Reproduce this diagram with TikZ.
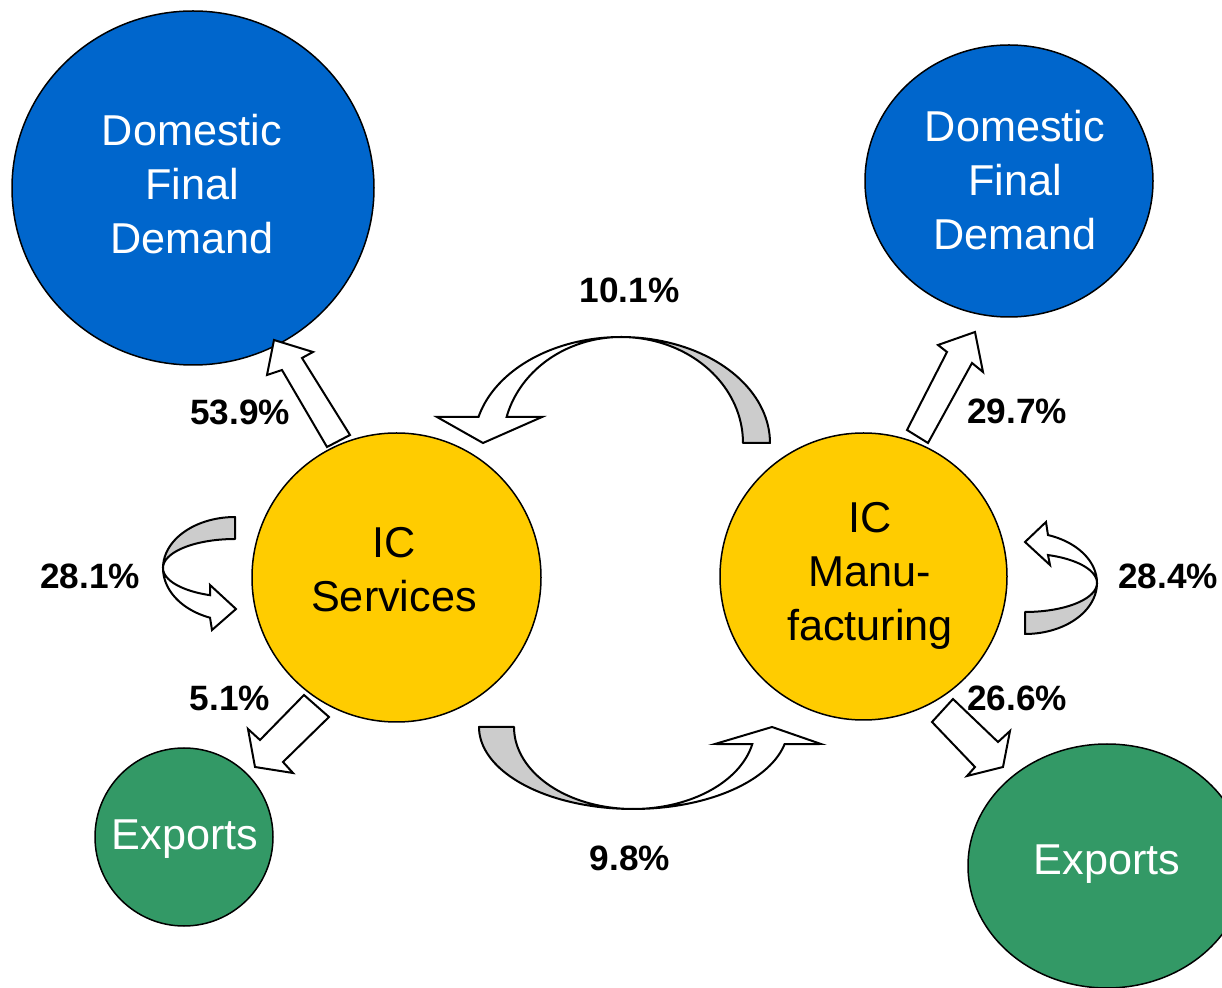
\documentclass[tikz,border=0pt]{standalone}
\usepackage{fontspec}
\setmainfont{Liberation Sans}
\usetikzlibrary{shapes.geometric}
\definecolor{dfblue}{RGB}{0,102,204}
\definecolor{icyellow}{RGB}{255,204,0}
\definecolor{expgreen}{RGB}{51,153,102}
\definecolor{bandgray}{RGB}{204,204,204}
\begin{document}
\begin{tikzpicture}[x=0.5pt,y=-0.5pt,
  blob/.style={ellipse, draw=black, line width=0.75pt, inner sep=0pt, outer sep=0pt},
  ctext/.style={font=\fontsize{21.6}{27}\selectfont, align=center, inner sep=0pt},
  pct/.style={font=\bfseries\fontsize{17.6}{20}\selectfont, inner sep=0pt},
  barrow/.style={draw=black, fill=white, line width=1pt, line join=miter},
  band/.style={draw=black, fill=bandgray, line width=1pt, line join=round},
  wband/.style={draw=black, fill=white, line width=1pt, line join=miter},
]
\useasboundingbox (0,0) rectangle (1222,988);

% circles
\node[blob, fill=dfblue, minimum width=181pt, minimum height=177pt] (dfdL) at (193,188) {};
\node[blob, fill=dfblue, minimum width=144pt, minimum height=136pt] (dfdR) at (1009,181) {};
\node[blob, fill=icyellow, minimum width=144.5pt, minimum height=144.5pt] (ics) at (396.5,577.5) {};
\node[blob, fill=icyellow, minimum width=143.5pt, minimum height=143.5pt] (icm) at (863.5,576.5) {};
\node[blob, fill=expgreen, minimum width=89pt, minimum height=89pt] (expL) at (184,837) {};
\node[blob, fill=expgreen, minimum width=139pt, minimum height=122pt] (expR) at (1107,866) {};

% circle texts
\node[ctext, text=white] (dfdLt) at (192,184) {Domestic\\Final\\Demand};
\node[ctext, text=white] (dfdRt) at (1015,180) {Domestic\\Final\\Demand};
\node[ctext, text=black] (icst) at (394,570) {IC\\Services};
\node[ctext, text=black] (icmt) at (870,575.5) {IC\\Manu-\\facturing};
\node[ctext, text=white] (expLt) at (185,839.5) {Exports};
\node[ctext, text=white] (expRt) at (1107,864.5) {Exports};

% straight block arrows
\draw[barrow] (327,447) -- (282,370) -- (267,375) -- (274,340) -- (313,352) -- (302,358) -- (350,435) -- cycle;
\draw[barrow] (907,430) -- (947,352) -- (938,345) -- (975,332) -- (983,372) -- (972,363) -- (928,443) -- cycle;
\draw[barrow] (304,695) -- (329,717) -- (283,762) -- (293,773) -- (255,767) -- (248,729) -- (260,740) -- cycle;
\draw[barrow] (953,699) -- (998,742) -- (1010,731) -- (1003,767) -- (967,776) -- (975,767) -- (932,722) -- cycle;

% top curved arrow (Manufacturing -> Services)
\draw[band] plot[domain=0:90, samples=40] ({621+149*cos(\x)},{443-106*sin(\x)})
  -- plot[domain=90:0, samples=40] ({621+122*cos(\x)},{443-106*sin(\x)}) -- cycle;
\draw[wband] plot[domain=90:165.8, samples=40] ({621+147*cos(\x)},{443-106*sin(\x)})
  -- (437,417) -- (483,443) -- (542,417)
  -- plot[domain=165.8:90, samples=40] ({621+118*cos(\x)},{443-106*sin(\x)}) -- cycle;

% bottom curved arrow (Services -> Manufacturing)
\draw[band] plot[domain=180:270, samples=40] ({633+154*cos(\x)},{727-82*sin(\x)})
  -- plot[domain=270:180, samples=40] ({633+119*cos(\x)},{727-82*sin(\x)}) -- cycle;
\draw[wband] plot[domain=270:348, samples=40] ({633+155*cos(\x)},{727-82*sin(\x)})
  -- (821,744) -- (772,727) -- (715,744)
  -- plot[domain=348:270, samples=40] ({633+122*cos(\x)},{727-82*sin(\x)}) -- cycle;

% left self arrow (Services)
\draw[band] plot[domain=90:180, samples=30] ({235+72*cos(\x)},{568-51*sin(\x)})
  -- plot[domain=180:90, samples=30] ({235+72*cos(\x)},{568-29*sin(\x)}) -- cycle;
\draw[wband] plot[domain=180:249.7, samples=30] ({235+72*cos(\x)},{568-53*sin(\x)})
  -- (212,630) -- (236,609) -- (210,585)
  -- plot[domain=249.7:180, samples=30] ({235+72*cos(\x)},{568-29*sin(\x)}) -- cycle;

% right self arrow (Manufacturing)
\draw[wband] plot[domain=0:71.4, samples=30] ({1025+72*cos(\x)},{583-50.6*sin(\x)})
  -- (1046,522) -- (1025,542) -- (1050,565)
  -- plot[domain=71.4:0, samples=30] ({1025+72*cos(\x)},{583-29.5*sin(\x)}) -- cycle;
\draw[band] plot[domain=0:-90, samples=30] ({1025+72*cos(\x)},{583-51*sin(\x)})
  -- plot[domain=-90:0, samples=30] ({1025+72*cos(\x)},{583-29*sin(\x)}) -- cycle;

% percentage labels
\node[pct] (p539) at (240,412.5) {53.9\%};
\node[pct] (p101) at (629.5,290) {10.1\%};
\node[pct] (p281) at (90,576) {28.1\%};
\node[pct] (p51)  at (230,698) {5.1\%};
\node[pct] (p98)  at (630,858) {9.8\%};
\node[pct] (p297) at (1017,411) {29.7\%};
\node[pct] (p284) at (1168,576) {28.4\%};
\node[pct] (p266) at (1017,698) {26.6\%};
\end{tikzpicture}
\end{document}
